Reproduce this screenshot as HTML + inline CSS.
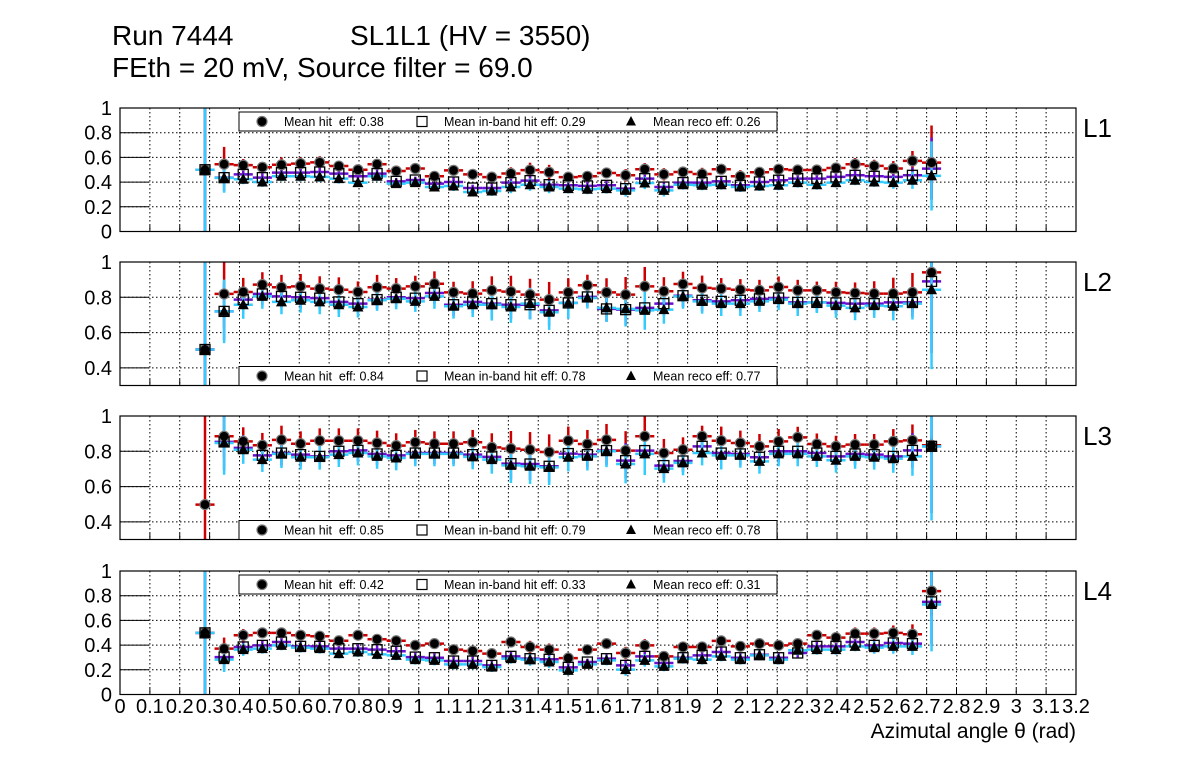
<!DOCTYPE html>
<html><head><meta charset="utf-8">
<style>
html,body{margin:0;padding:0;background:#fff;}
svg{display:block;font-family:"Liberation Sans",Arial,sans-serif;}
</style></head>
<body>
<svg id="chart" width="1196" height="772" viewBox="0 0 1196 772" xmlns="http://www.w3.org/2000/svg">
<rect x="0" y="0" width="1196" height="772" fill="#fff"/>
<text x="112" y="45" font-size="28">Run 7444</text>
<text x="350" y="45" font-size="28">SL1L1 (HV = 3550)</text>
<text x="112" y="77" font-size="28">FEth = 20 mV, Source filter = 69.0</text>
<text x="1076" y="738" font-size="21" text-anchor="end">Azimutal angle θ (rad)</text>
<g id="plots"></g>
</svg>
<script>
// ---- data ----
const xTickLabels = ["0","0.1","0.2","0.3","0.4","0.5","0.6","0.7","0.8","0.9","1","1.1","1.2","1.3","1.4","1.5","1.6","1.7","1.8","1.9","2","2.1","2.2","2.3","2.4","2.5","2.6","2.7","2.8","2.9","3","3.1","3.2"];
const binStart = 0.2845;
const binStep = 0.064;
const layerNames = ["L1","L2","L3","L4"];
const meanHit = ["0.38","0.84","0.85","0.42"];
const meanInband = ["0.29","0.78","0.79","0.33"];
const meanReco = ["0.26","0.77","0.78","0.31"];

const hit1 = [0.50,0.545,0.537,0.52,0.54,0.55,0.56,0.53,0.50,0.545,0.49,0.51,0.447,0.495,0.463,0.44,0.47,0.497,0.48,0.44,0.447,0.474,0.455,0.504,0.463,0.482,0.466,0.504,0.447,0.48,0.504,0.498,0.498,0.514,0.545,0.531,0.51,0.572,0.558];
const inb1 = [0.50,0.436,0.463,0.436,0.477,0.477,0.482,0.469,0.447,0.469,0.406,0.417,0.388,0.401,0.352,0.352,0.396,0.412,0.379,0.374,0.369,0.374,0.347,0.428,0.360,0.396,0.396,0.406,0.374,0.401,0.415,0.428,0.428,0.442,0.455,0.447,0.442,0.455,0.509];
const reco1 = [0.50,0.434,0.423,0.401,0.447,0.447,0.442,0.428,0.396,0.447,0.388,0.396,0.360,0.368,0.320,0.328,0.360,0.379,0.360,0.347,0.342,0.347,0.333,0.393,0.333,0.379,0.374,0.379,0.360,0.368,0.374,0.396,0.379,0.396,0.415,0.401,0.396,0.415,0.450];
const hitErr1 = [0.55,0.14,0.05,0.04,0.06,0.05,0.05,0.04,0.04,0.04,0.03,0.04,0.03,0.04,0.04,0.04,0.05,0.06,0.06,0.04,0.04,0.04,0.05,0.05,0.05,0.04,0.05,0.04,0.05,0.04,0.04,0.04,0.04,0.04,0.05,0.05,0.06,0.08,0.30];
const recoErr1 = [0.55,0.12,0.04,0.04,0.04,0.04,0.04,0.04,0.03,0.04,0.03,0.03,0.03,0.04,0.03,0.04,0.05,0.05,0.05,0.04,0.04,0.04,0.05,0.05,0.05,0.04,0.04,0.04,0.04,0.04,0.04,0.04,0.04,0.04,0.04,0.04,0.05,0.07,0.28];

const hit2 = [0.504,0.819,0.830,0.872,0.857,0.862,0.849,0.843,0.830,0.857,0.849,0.862,0.877,0.828,0.821,0.839,0.832,0.815,0.787,0.828,0.868,0.828,0.815,0.862,0.834,0.875,0.853,0.849,0.843,0.839,0.858,0.839,0.839,0.828,0.824,0.821,0.821,0.828,0.941];
const inb2 = [0.504,0.72,0.787,0.819,0.805,0.80,0.795,0.774,0.764,0.787,0.80,0.795,0.824,0.758,0.774,0.764,0.758,0.758,0.726,0.768,0.802,0.734,0.73,0.74,0.764,0.809,0.783,0.777,0.783,0.791,0.796,0.771,0.771,0.768,0.764,0.764,0.771,0.771,0.89];
const reco2 = [0.504,0.72,0.758,0.805,0.774,0.783,0.774,0.758,0.745,0.783,0.792,0.777,0.805,0.749,0.758,0.758,0.745,0.764,0.715,0.768,0.796,0.74,0.734,0.726,0.73,0.805,0.777,0.764,0.764,0.777,0.787,0.764,0.771,0.753,0.74,0.753,0.749,0.764,0.843];
const hitErr2 = [0.6,0.19,0.08,0.07,0.07,0.07,0.07,0.07,0.06,0.07,0.06,0.06,0.07,0.06,0.07,0.08,0.09,0.09,0.1,0.08,0.06,0.08,0.10,0.11,0.08,0.07,0.07,0.06,0.06,0.06,0.06,0.06,0.05,0.06,0.06,0.07,0.09,0.11,0.08];
const recoErr2 = [0.6,0.18,0.08,0.07,0.07,0.07,0.07,0.07,0.06,0.06,0.06,0.06,0.07,0.07,0.07,0.09,0.09,0.09,0.1,0.09,0.06,0.08,0.10,0.11,0.08,0.07,0.07,0.07,0.07,0.06,0.06,0.07,0.06,0.07,0.07,0.07,0.08,0.09,0.45];

const hit3 = [0.498,0.885,0.856,0.834,0.865,0.843,0.86,0.86,0.86,0.847,0.832,0.851,0.843,0.843,0.851,0.822,0.815,0.809,0.796,0.86,0.841,0.865,0.804,0.885,0.79,0.809,0.885,0.86,0.847,0.828,0.856,0.879,0.841,0.828,0.838,0.838,0.856,0.862,0.834];
const inb3 = [null,0.853,0.819,0.777,0.79,0.781,0.771,0.80,0.805,0.785,0.777,0.79,0.79,0.79,0.781,0.768,0.73,0.728,0.715,0.787,0.781,0.804,0.747,0.804,0.719,0.745,0.828,0.79,0.785,0.766,0.80,0.80,0.79,0.771,0.785,0.781,0.771,0.805,0.828];
const reco3 = [null,0.847,0.809,0.753,0.785,0.766,0.766,0.781,0.79,0.771,0.762,0.785,0.785,0.785,0.768,0.753,0.72,0.715,0.709,0.766,0.771,0.80,0.728,0.785,0.702,0.734,0.79,0.777,0.777,0.743,0.785,0.785,0.771,0.749,0.771,0.766,0.758,0.771,0.828];
const hitErr3 = [0.6,0.12,0.08,0.07,0.08,0.07,0.07,0.07,0.07,0.07,0.07,0.07,0.07,0.07,0.07,0.08,0.1,0.1,0.1,0.08,0.08,0.09,0.11,0.12,0.08,0.07,0.06,0.08,0.07,0.07,0.07,0.06,0.06,0.06,0.06,0.06,0.07,0.09,0.05];
const recoErr3 = [0,0.18,0.08,0.07,0.08,0.07,0.07,0.07,0.07,0.07,0.07,0.07,0.07,0.07,0.07,0.08,0.1,0.1,0.1,0.08,0.08,0.09,0.11,0.12,0.08,0.07,0.07,0.08,0.07,0.07,0.07,0.07,0.06,0.07,0.07,0.07,0.08,0.11,0.42];

const hit4 = [0.499,0.371,0.48,0.499,0.499,0.48,0.472,0.435,0.48,0.447,0.435,0.398,0.412,0.363,0.352,0.331,0.425,0.385,0.363,0.295,0.363,0.412,0.336,0.398,0.309,0.385,0.385,0.434,0.39,0.412,0.398,0.412,0.48,0.461,0.493,0.493,0.499,0.488,0.837];
const inb4 = [0.499,0.303,0.385,0.398,0.425,0.39,0.39,0.371,0.371,0.363,0.35,0.303,0.298,0.271,0.271,0.236,0.309,0.29,0.285,0.22,0.263,0.29,0.236,0.309,0.255,0.298,0.317,0.344,0.298,0.322,0.298,0.336,0.39,0.39,0.425,0.398,0.417,0.412,0.75];
const reco4 = [0.499,0.282,0.363,0.371,0.398,0.38,0.371,0.331,0.344,0.325,0.317,0.282,0.276,0.244,0.244,0.222,0.29,0.282,0.263,0.195,0.244,0.276,0.201,0.276,0.228,0.29,0.282,0.309,0.282,0.317,0.282,0.358,0.363,0.363,0.39,0.38,0.39,0.39,0.729];
const hitErr4 = [0.55,0.09,0.05,0.04,0.04,0.04,0.04,0.04,0.04,0.04,0.04,0.04,0.04,0.04,0.04,0.04,0.04,0.05,0.05,0.04,0.03,0.04,0.05,0.05,0.04,0.04,0.04,0.04,0.04,0.04,0.04,0.04,0.04,0.04,0.05,0.05,0.06,0.08,0.2];
const recoErr4 = [0.55,0.1,0.05,0.04,0.04,0.04,0.04,0.04,0.04,0.04,0.04,0.04,0.04,0.04,0.04,0.04,0.04,0.05,0.05,0.04,0.03,0.04,0.05,0.05,0.04,0.04,0.04,0.04,0.04,0.04,0.04,0.04,0.04,0.04,0.04,0.05,0.06,0.07,0.38];

const hitSeries = [hit1,hit2,hit3,hit4];
const inbSeries = [inb1,inb2,inb3,inb4];
const recoSeries = [reco1,reco2,reco3,reco4];
const hitErrs = [hitErr1,hitErr2,hitErr3,hitErr4];
const recoErrs = [recoErr1,recoErr2,recoErr3,recoErr4];
const yMins = [0,0.3,0.3,0];
const yTickLabels1 = ["0","0.2","0.4","0.6","0.8","1"];
const yTickLabels2 = ["0.4","0.6","0.8","1"];

// ---- layout ----
const X0 = 120, X1 = 1076, XMAX = 3.2;
const panelTops = [108, 262, 416, 571];
const panelH = 123.5;
const NS = "http://www.w3.org/2000/svg";
const root = document.getElementById('plots');
function xs(v){ return X0 + (v/XMAX)*(X1-X0); }
function mk(tag, attrs, parent){
  const e = document.createElementNS(NS, tag);
  for (const k in attrs) e.setAttribute(k, attrs[k]);
  (parent||root).appendChild(e);
  return e;
}
const halfBin = (xs(binStep)-xs(0))/2;

for (let p=0; p<4; p++){
  const top = panelTops[p], bot = top + panelH, ymin = yMins[p];
  const ys = v => bot - (v - ymin)/(1 - ymin)*panelH;
  const g = mk('g', {});
  
  
  const clipId = 'clip'+p;
  const cp = mk('clipPath', {id: clipId}, g);
  mk('rect', {x: X0, y: top, width: X1-X0, height: panelH}, cp);
  for (let i=1; i<xTickLabels.length-1; i++){
    const x = xs(parseFloat(xTickLabels[i]));
    const gl = mk('line', {x1:x, x2:x, y1:top, y2:bot, stroke:'#000', 'stroke-width':1, 'stroke-dasharray':'1.5,2.5'}, g);
    
    
    const tk = mk('line', {x1:x, x2:x, y1:bot, y2:bot-6, stroke:'#000', 'stroke-width':1}, g);
    
    
  }
  const yl = ymin === 0 ? yTickLabels1 : yTickLabels2;
  yl.forEach(t => {
    const v = parseFloat(t), y = ys(v);
    if (v > ymin && v < 1) {
      const gl = mk('line', {x1:X0, x2:X1, y1:y, y2:y, stroke:'#000', 'stroke-width':1, 'stroke-dasharray':'1.5,2.5'}, g);
      
      
    }
    const tk = mk('line', {x1:X0, x2:X0+29, y1:y, y2:y, stroke:'#000', 'stroke-width':1}, g);
    
    
    const lab = mk('text', {x:112, y:y+7, 'font-size':20, 'text-anchor':'end'}, g);
    lab.textContent = t;
    
    
  });
  const series = [
    {vals: hitSeries[p], err: hitErrs[p], color:'#cc0000', marker:'circle', name:'hit'},
    {vals: inbSeries[p], err: recoErrs[p], color:'#6a0fd0', marker:'square', name:'inband'},
    {vals: recoSeries[p], err: recoErrs[p], color:'#33ccff', marker:'triangle', name:'reco'}
  ];
  const dg = mk('g', {'clip-path': 'url(#'+clipId+')'}, g);
  series.forEach((s, si) => {
    const sg = mk('g', {}, dg);
    
    
    s.vals.forEach((v, i) => {
      if (v === null) return;
      const cx = xs(binStart + binStep*i), cy = ys(v);
      const e = si === 1 ? s.err[i]*0.9 : s.err[i];
      const h = mk('line', {x1:cx-halfBin, x2:cx+halfBin, y1:cy, y2:cy, stroke:s.color, 'stroke-width':2.5}, sg);
      
      
      const vl = mk('line', {x1:cx, x2:cx, y1:ys(v+e), y2:ys(v-e), stroke:s.color, 'stroke-width':2.5}, sg);
      
      
    });
  });
  series.forEach((s) => {
    const mg = mk('g', {}, g);
    
    
    s.vals.forEach((v, i) => {
      if (v === null) return;
      const cx = xs(binStart + binStep*i), cy = ys(v);
      let m;
      if (s.marker === 'circle') {
        m = mk('circle', {cx:cx, cy:cy, r:5, fill:'#000', stroke:'#777', 'stroke-width':1.2}, mg);
      } else if (s.marker === 'square') {
        m = mk('rect', {x:cx-5, y:cy-5, width:10, height:10, fill:'none', stroke:'#000', 'stroke-width':1.3}, mg);
      } else {
        m = mk('polygon', {points:(cx)+','+(cy-6)+' '+(cx-5.5)+','+(cy+4.5)+' '+(cx+5.5)+','+(cy+4.5), fill:'#000'}, mg);
      }
      
      
    });
  });
  const fr = mk('rect', {x:X0, y:top, width:X1-X0, height:panelH, fill:'none', stroke:'#000', 'stroke-width':1.2}, g);
  
  
  const ly = (p===1 || p===2) ? bot-19 : top+4;
  const lg = mk('g', {}, g);
  
  
  mk('rect', {x:239, y:ly, width:538, height:19, fill:'#fff', stroke:'#000', 'stroke-width':1}, lg);
  const my = ly + 9.5;
  mk('circle', {cx:262, cy:my, r:5, fill:'#000', stroke:'#777', 'stroke-width':1.2}, lg);
  mk('rect', {x:417, y:my-5, width:10, height:10, fill:'none', stroke:'#000', 'stroke-width':1.2}, lg);
  mk('polygon', {points:'631,'+(my-5.5)+' 626,'+(my+4)+' 636,'+(my+4), fill:'#000'}, lg);
  const t1 = mk('text', {x:284, y:my+4.5, 'font-size':12.5}, lg); t1.textContent = 'Mean hit  eff: ' + meanHit[p];
   
  t1.setAttribute('xml:space', 'preserve'); t1.style.whiteSpace = 'pre';
  const t2 = mk('text', {x:444, y:my+4.5, 'font-size':12.5}, lg); t2.textContent = 'Mean in-band hit eff: ' + meanInband[p];
   
  const t3 = mk('text', {x:653, y:my+4.5, 'font-size':12.5}, lg); t3.textContent = 'Mean reco eff: ' + meanReco[p];
   
  const ll = mk('text', {x:1083, y:top+29, 'font-size':26}, g);
  ll.textContent = layerNames[p];
  
  
}
xTickLabels.forEach(t => {
  const lab = mk('text', {x:xs(parseFloat(t)), y:713, 'font-size':20, 'text-anchor':'middle'});
  lab.textContent = t;
  
  
});
</script>
</body></html>
